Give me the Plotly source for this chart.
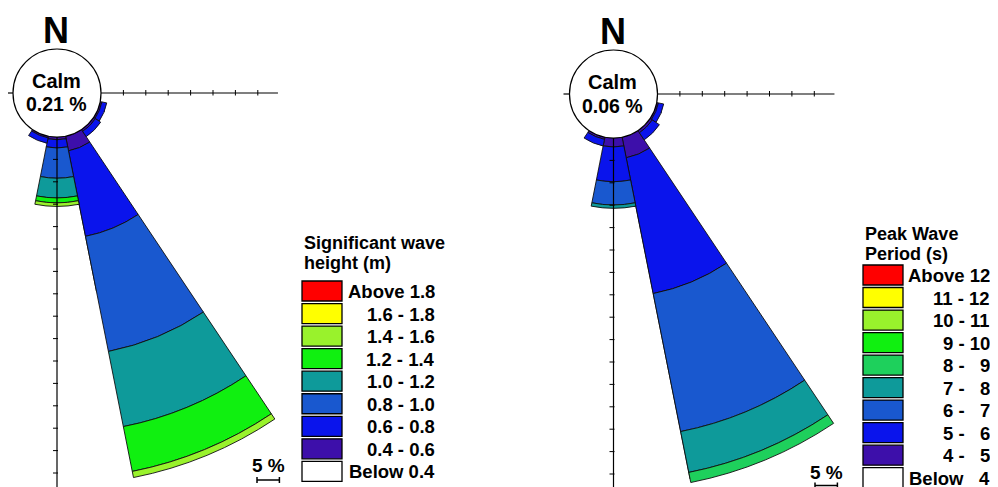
import math
import plotly.graph_objects as go

# The page body adds an 8 px margin, so the figure is 8 px smaller and all
# reference-pixel positions are shifted by that offset.
OX, OY = 8, 8
W, H = 998 - OX, 487 - OY
FONT = "Arial, 'Liberation Sans', sans-serif"

# ---------------- data ----------------
directions = ["ESE", "SE", "SSE", "S", "SSW"]
dir_angles = [112.5, 135.0, 157.5, 180.0, 202.5]
sector_width = 22.5

# Significant wave height (m) - frequency (%) per direction
hs_bins = ["0.4 - 0.6", "0.6 - 0.8", "0.8 - 1.0", "1.0 - 1.2", "1.2 - 1.4", "1.4 - 1.6"]
hs_04_06 = [0.4, 0.5, 3.35, 0.6, 0.4]
hs_06_08 = [1.1, 1.4, 19.45, 1.85, 1.2]
hs_08_10 = [0.0, 0.0, 26.2, 6.75, 0.0]
hs_10_12 = [0.0, 0.0, 17.1, 4.4, 0.0]
hs_12_14 = [0.0, 0.0, 10.2, 1.1, 0.0]
hs_14_16 = [0.0, 0.0, 1.4, 0.8, 0.0]
hs_calm = 0.21

# Peak wave period (s) - frequency (%) per direction
tp_bins = ["4 - 5", "5 - 6", "6 - 7", "7 - 8", "8 - 9"]
tp_4_5 = [0.4, 0.6, 4.7, 2.0, 0.5]
tp_5_6 = [1.2, 1.9, 30.9, 7.75, 1.5]
tp_6_7 = [0.0, 0.0, 31.4, 5.2, 0.0]
tp_7_8 = [0.0, 0.0, 9.3, 0.75, 0.0]
tp_8_9 = [0.0, 0.0, 2.3, 0.0, 0.0]
tp_calm = 0.06

# legends
hs_legend_title = ["Significant wave", "height (m)"]
hs_legend_labels = ["Above 1.8", "1.6 - 1.8", "1.4 - 1.6", "1.2 - 1.4", "1.0 - 1.2",
                    "0.8 - 1.0", "0.6 - 0.8", "0.4 - 0.6", "Below 0.4"]
tp_legend_title = ["Peak Wave", "Period (s)"]
tp_legend_labels = ["Above 12", "11 - 12", "10 - 11", "9 - 10", "8 -\u00a0\u00a0\u00a09",
                    "7 -\u00a0\u00a0\u00a08", "6 -\u00a0\u00a0\u00a07", "5 -\u00a0\u00a0\u00a06",
                    "4 -\u00a0\u00a0\u00a05", "Below\u00a0\u00a0\u00a04"]

axis_e_ticks = [5, 10, 15, 20, 25, 30, 35]
axis_e_len = 39.5
axis_s_ticks = [5, 10, 15, 20, 25, 30, 35, 40, 45, 50, 55, 60, 65, 70, 75, 80]
axis_s_len = 82
scale_pct = 5

# ---------------- styles ----------------
RED, YELLOW, YGREEN, GREEN = "#FF0000", "#FFFF00", "#99F22C", "#10F010"
MGREEN, TEAL, MBLUE, BLUE, PURPLE = "#1ED05C", "#0E9A9A", "#1958CF", "#0A14EC", "#3D0FAA"

hs_series = [hs_04_06, hs_06_08, hs_08_10, hs_10_12, hs_12_14, hs_14_16]
hs_colors = [PURPLE, BLUE, MBLUE, TEAL, GREEN, YGREEN]
hs_legend_colors = [RED, YELLOW, YGREEN, GREEN, TEAL, MBLUE, BLUE, PURPLE, "white"]

tp_series = [tp_4_5, tp_5_6, tp_6_7, tp_7_8, tp_8_9]
tp_colors = [PURPLE, BLUE, MBLUE, TEAL, MGREEN]
tp_legend_colors = [RED, YELLOW, YGREEN, GREEN, MGREEN, TEAL, MBLUE, BLUE, PURPLE, "white"]

R0 = 44.0      # calm circle radius (px)
K = 4.48       # px per percent
R_MAX = 400.0
# compass sub-sectors used to build each rose (drawn in this order, last on top)
SUBSECTORS = [(90, 112), (192, 230), (168, 194), (110, 170)]


def px(x, y):
    """reference pixel -> paper fraction"""
    return (x - OX) / W, 1 - (y - OY) / H


def sector_bbox(s0, s1):
    arc = s1 - s0
    a0 = s0 % 360
    a1 = a0 + arc
    r = math.radians
    ax0, ay0 = math.cos(r(a0)), math.sin(r(a0))
    ax1, ay1 = math.cos(r(a1)), math.sin(r(a1))
    if (a0 <= 90 and a1 >= 90) or (a0 > 90 and a1 >= 450):
        y1 = 1
    elif ay0 <= 0 and ay1 <= 0:
        y1 = 0
    else:
        y1 = max(ay0, ay1)
    if (a0 <= 180 and a1 >= 180) or (a0 > 180 and a1 >= 540):
        x0 = -1
    elif ax0 >= 0 and ax1 >= 0:
        x0 = 0
    else:
        x0 = min(ax0, ax1)
    if (a0 <= 270 and a1 >= 270) or (a0 > 270 and a1 >= 630):
        y0 = -1
    elif ay0 >= 0 and ay1 >= 0:
        y0 = 0
    else:
        y0 = min(ay0, ay1)
    if a1 >= 360:
        x1 = 1
    elif ax0 <= 0 and ax1 <= 0:
        x1 = 0
    else:
        x1 = max(ax0, ax1)
    return x0, y0, x1, y1


fig = go.Figure()
layout_polars = {}
shapes = []
annotations = []


def ann(text, x, y, size, xanchor="center", yanchor="middle", height=None):
    xp, yp = px(x, y)
    a = dict(text=text, x=xp, y=yp, xref="paper", yref="paper",
             xanchor=xanchor, yanchor=yanchor, showarrow=False, valign="middle",
             font=dict(family=FONT, size=size, color="black", weight="bold"))
    if height is not None:
        a["height"] = height
    annotations.append(a)


def line(x0, y0, x1, y1, width=1.2):
    p0, p1 = px(x0, y0), px(x1, y1)
    shapes.append(dict(type="line", xref="paper", yref="paper", x0=p0[0], y0=p0[1],
                       x1=p1[0], y1=p1[1], line=dict(color="black", width=width)))


def add_rose(first_idx, cx, cy, series, colors, names, calm):
    idx = first_idx
    fx, fy = cx - OX, cy - OY
    for (c0, c1) in SUBSECTORS:
        s0, s1 = 90 - c1, 90 - c0
        x0, y0, x1, y1 = sector_bbox(s0, s1)
        lim = [R_MAX]
        if x1 > 1e-9:
            lim.append((W - fx) / x1)
        if x0 < -1e-9:
            lim.append(fx / (-x0))
        if y1 > 1e-9:
            lim.append(fy / y1)
        if y0 < -1e-9:
            lim.append((H - fy) / (-y0))
        R = min(lim) - 0.3
        dx = [max(0.0, (fx + R * x0) / W), min(1.0, (fx + R * x1) / W)]
        dy = [max(0.0, 1 - (fy - R * y0) / H), min(1.0, 1 - (fy - R * y1) / H)]
        pid = "polar" if idx == 1 else f"polar{idx}"
        layout_polars[pid] = dict(
            domain=dict(x=dx, y=dy), sector=[s0, s1], hole=R0 / R,
            bgcolor="rgba(0,0,0,0)", barmode="stack", bargap=0,
            radialaxis=dict(range=[0, (R - R0) / K], visible=False),
            angularaxis=dict(rotation=90, direction="clockwise", visible=False),
        )
        for vals, col, nm in zip(series, colors, names):
            fig.add_trace(go.Barpolar(
                r=vals, theta=dir_angles, width=[sector_width] * len(vals),
                name=nm, marker=dict(color=col, line=dict(color="#101010", width=0.9)),
                subplot=pid, showlegend=False, hoverinfo="skip"))
        idx += 1

    # frequency axes (east and south) with 5 % ticks
    line(cx + R0, cy, cx + R0 + axis_e_len * K, cy)
    for t in axis_e_ticks:
        line(cx + R0 + t * K, cy - 3, cx + R0 + t * K, cy + 2.5, 1)
    line(cx, cy + R0, cx, cy + R0 + axis_s_len * K)
    for t in axis_s_ticks:
        line(cx - 4, cy + R0 + t * K, cx + 1, cy + R0 + t * K, 1)
    line(cx - R0 - 6, cy, cx - R0, cy)
    # calm circle
    c0p, c1p = px(cx - R0, cy - R0), px(cx + R0, cy + R0)
    shapes.append(dict(type="circle", xref="paper", yref="paper", x0=c0p[0], x1=c1p[0],
                       y0=c1p[1], y1=c0p[1], fillcolor="white",
                       line=dict(color="black", width=1.2)))
    # labels
    ann("N", cx - 1, cy - 63, 36, height=30)
    ann("Calm", cx - 1, cy - 12.5, 20)
    ann(f"{calm:.2f} %", cx - 1, cy + 11.5, 19.5)
    return idx


nxt = add_rose(1, 57.0, 93.0, hs_series, hs_colors, hs_bins, hs_calm)
add_rose(nxt, 613.5, 94.0, tp_series, tp_colors, tp_bins, tp_calm)


def legend(x_sw, x_right, top0, step, title, labels, colors, title_y, title_step):
    for i, t in enumerate(title):
        ann(t, x_sw, title_y + i * title_step, 18, xanchor="left")
    for i, (lab, col) in enumerate(zip(labels, colors)):
        top = top0 + i * step
        x0p, y0p = px(x_sw, top)
        x1p, y1p = px(x_sw + 40, top + 20)
        shapes.append(dict(type="rect", xref="paper", yref="paper", x0=x0p, x1=x1p,
                           y0=y1p, y1=y0p, fillcolor=col, line=dict(color="black", width=1.3)))
        ann(lab, x_right, top + 10, 18.5, xanchor="right", height=18)


legend(302, 437, 281, 22.55, hs_legend_title, hs_legend_labels, hs_legend_colors, 243, 20.5)
legend(863, 992, 265, 22.52, tp_legend_title, tp_legend_labels, tp_legend_colors, 233.5, 20.5)


def scale_bar(xl, y, label_y):
    L = scale_pct * K
    line(xl, y, xl + L, y, 1.5)
    line(xl, y - 3, xl, y + 3, 1.5)
    line(xl + L, y - 3, xl + L, y + 3, 1.5)
    ann(f"{scale_pct} %", xl + L / 2, label_y, 19)


scale_bar(257, 480, 465.5)
scale_bar(815, 485.5, 472.5)

fig.update_layout(
    width=W, height=H, margin=dict(l=0, r=0, t=0, b=0),
    paper_bgcolor="white", plot_bgcolor="white", showlegend=False,
    shapes=shapes, annotations=annotations, **layout_polars)

fig.write_html("out.html")
